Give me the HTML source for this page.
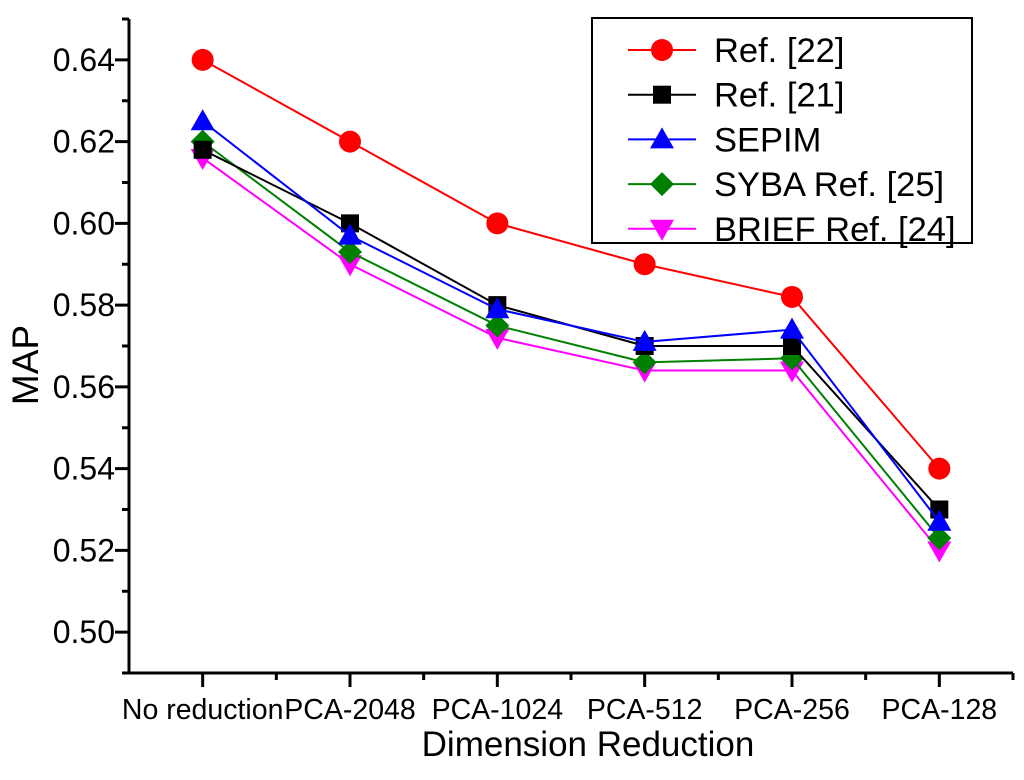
<!DOCTYPE html>
<html><head><meta charset="utf-8"><style>
body{margin:0;background:#fff}
svg{display:block;font-family:"Liberation Sans",Arial,sans-serif}
</style></head><body>
<svg id="c" width="1024" height="780"></svg>
<script>
const categories=["No reduction","PCA-2048","PCA-1024","PCA-512","PCA-256","PCA-128"];
const ref22=[0.64,0.62,0.60,0.59,0.582,0.54];
const ref21=[0.618,0.60,0.58,0.57,0.57,0.53];
const sepim=[0.625,0.597,0.579,0.571,0.574,0.527];
const syba=[0.62,0.593,0.575,0.566,0.567,0.523];
const brief=[0.616,0.59,0.572,0.564,0.564,0.52];
const yTicks=["0.50","0.52","0.54","0.56","0.58","0.60","0.62","0.64"];
const seriesNames=["Ref. [22]","Ref. [21]","SEPIM","SYBA Ref. [25]","BRIEF Ref. [24]"];

const NS="http://www.w3.org/2000/svg";
const svg=document.getElementById('c');
const L=129,R=1013,T=19,B=673,ymin=0.49,ymax=0.65;
const x=i=>L+(i+0.5)*(R-L)/categories.length;
const y=v=>B-(v-ymin)/(ymax-ymin)*(B-T);
function mk(tag,a,parent){const e=document.createElementNS(NS,tag);for(const k in a)e.setAttribute(k,a[k]);(parent||svg).appendChild(e);return e;}

const axes=mk('g',{});


mk('line',{x1:L,y1:T,x2:L,y2:B+1.5,stroke:'#000','stroke-width':3},axes);
mk('line',{x1:L-1.5,y1:B,x2:R,y2:B,stroke:'#000','stroke-width':3},axes);
for(let v=0.49;v<=0.6501;v+=0.01){
  const major=Math.round(v*100)%2===0;
  mk('line',{x1:L-(major?14:7),y1:y(v),x2:L,y2:y(v),stroke:'#000','stroke-width':3},axes);
}
yTicks.forEach(t=>{
  const e=mk('text',{x:115,y:y(+t)+11,'text-anchor':'end','font-size':32},axes);
  e.textContent=t;
  
  
});
for(let k=1;k<=categories.length*2;k++){
  const xx=L+k*(R-L)/(categories.length*2);
  const major=k%2===1;
  mk('line',{x1:xx,y1:B,x2:xx,y2:B+(major?14:7),stroke:'#000','stroke-width':3},axes);
}
categories.forEach((c,i)=>{
  const e=mk('text',{x:x(i),y:719,'text-anchor':'middle','font-size':28.5},axes);
  e.textContent=c;
  
  
});
const yt=mk('text',{x:0,y:0,transform:'translate(38,365) rotate(-90)','text-anchor':'middle','font-size':37});
yt.textContent='MAP';


const xt=mk('text',{x:588,y:756,'text-anchor':'middle','font-size':35});
xt.textContent='Dimension Reduction';



function marker(type,cx,cy,col,g){
  if(type==='circle')mk('circle',{cx,cy,r:11,fill:col},g);
  else if(type==='square')mk('rect',{x:cx-9,y:cy-9,width:18,height:18,fill:col},g);
  else if(type==='up')mk('polygon',{points:`${cx},${cy-12} ${cx-12},${cy+9} ${cx+12},${cy+9}`,fill:col},g);
  else if(type==='diamond')mk('polygon',{points:`${cx},${cy-12} ${cx+12},${cy} ${cx},${cy+12} ${cx-12},${cy}`,fill:col},g);
  else mk('polygon',{points:`${cx},${cy+12} ${cx-12},${cy-9} ${cx+12},${cy-9}`,fill:col},g);
}
const series=[[ref22,'#ff0000','circle'],[ref21,'#000000','square'],[sepim,'#0000ff','up'],[syba,'#008000','diamond'],[brief,'#ff00ff','down']];
const order=[0,4,3,1,2];
order.forEach(si=>{
  const [d,col,m]=series[si];
  const g=mk('g',{});
  
  
  mk('polyline',{points:d.map((v,i)=>x(i)+','+y(v)).join(' '),fill:'none',stroke:col,'stroke-width':2},g);
  d.forEach((v,i)=>marker(m,x(i),y(v),col,g));
});
const lg=mk('g',{});


mk('rect',{x:592,y:18,width:380,height:225,fill:'#fff',stroke:'#000','stroke-width':2},lg);
series.forEach((s,i)=>{
  const ly=50+i*44.7;
  const e=mk('g',{},lg);
  
  
  mk('line',{x1:628,y1:ly,x2:696,y2:ly,stroke:s[1],'stroke-width':2},e);
  marker(s[2],662,ly,s[1],e);
  const t=mk('text',{x:714,y:ly+12,'font-size':34.5},e);
  t.textContent=seriesNames[i];
});
</script>
</body></html>
